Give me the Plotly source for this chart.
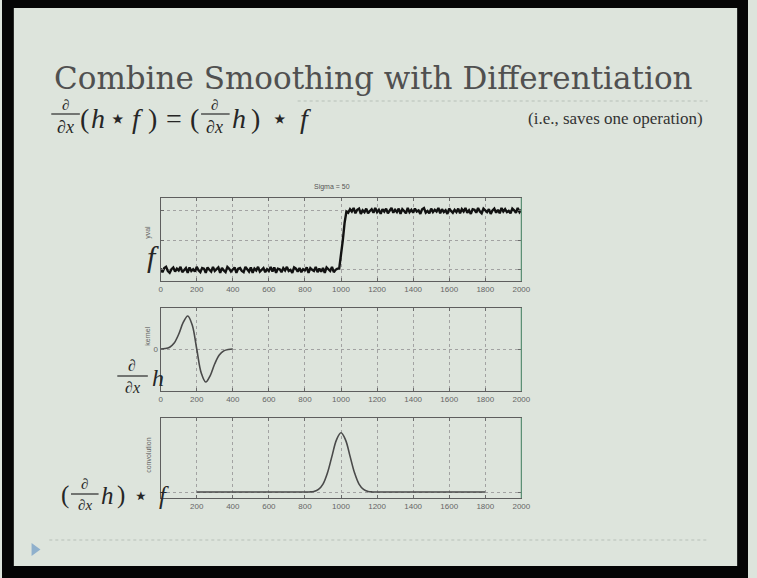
import plotly.graph_objects as go

# ---- data -------------------------------------------------------------
# noisy step signal f, sampled every 10 units from 0 to 2000
signal_x = list(range(0, 2001, 10))
signal_low = [
    0.02, -0.04, 0.03, 0.05, -0.02, -0.05, 0.01, 0.04, -0.03, 0.02,
    -0.01, 0.05, -0.04, 0.00, 0.03, -0.05, 0.04, -0.02, 0.01, -0.03,
    0.05, -0.01, -0.04, 0.03, 0.02, -0.05, 0.04, 0.00, -0.03, 0.05,
    -0.02, 0.01, 0.04, -0.05, 0.03, -0.01, -0.04, 0.05, 0.02, -0.03,
    0.00, 0.04, -0.05, 0.02, 0.03, -0.02, -0.04, 0.05, 0.01, -0.03,
    0.04, -0.05, 0.02, -0.01, 0.05, -0.03, 0.00, 0.03, -0.04, 0.01,
    -0.02, 0.05, -0.03, 0.04, -0.05, 0.02, 0.01, -0.04, 0.03, -0.01,
    0.05, -0.02, 0.00, -0.05, 0.04, 0.02, -0.03, 0.03, -0.04, 0.01,
    -0.01, 0.04, -0.05, 0.03, 0.00, -0.02, 0.05, -0.04, 0.02, -0.03,
    0.03, -0.05, 0.04, 0.01, -0.02, 0.05, -0.04, 0.00, 0.02,
]
signal_edge = [0.02, 0.22, 0.50, 0.80, 0.99]
signal_high = [
    0.97, 1.03, 0.99, 1.05, 0.96, 1.02, 1.04, 0.95, 1.01, 0.98,
    1.04, 0.96, 1.00, 1.03, 0.97, 1.05, 0.98, 1.02, 0.95, 1.03,
    0.99, 1.04, 0.96, 1.01, 1.05, 0.97, 1.02, 0.98, 1.04, 0.95,
    1.03, 1.00, 0.96, 1.05, 0.98, 1.02, 0.97, 1.04, 0.99, 1.01,
    0.95, 1.03, 1.05, 0.97, 1.00, 0.96, 1.04, 0.98, 1.02, 0.99,
    1.05, 0.96, 1.03, 0.98, 1.01, 0.95, 1.04, 1.00, 0.97, 1.02,
    0.98, 1.04, 0.96, 1.03, 0.99, 1.05, 0.97, 1.01, 0.95, 1.03,
    1.02, 0.97, 1.05, 0.99, 0.96, 1.04, 1.00, 0.98, 1.03, 0.95,
    1.01, 1.04, 0.97, 1.02, 0.96, 1.05, 0.99, 1.03, 0.98, 1.00,
    0.96, 1.04, 1.01, 0.97, 1.05, 0.98, 1.02,
]
signal_y = signal_low + signal_edge + signal_high

# derivative-of-Gaussian kernel (sigma = 50), peak normalised to 1
kernel_x = [0, 25, 50, 75, 100, 125, 150, 175, 200,
            225, 250, 275, 300, 325, 350, 375, 400]
kernel_y = [0.002, 0.013, 0.055, 0.181, 0.446, 0.803, 1.0, 0.728, 0.0,
            -0.728, -1.0, -0.803, -0.446, -0.181, -0.055, -0.013, -0.002]

# result of convolving f with the kernel
conv_x = [200, 600, 800, 825, 850, 875, 900, 925, 950, 975, 1000,
          1025, 1050, 1075, 1100, 1125, 1150, 1175, 1200, 1400, 1800]
conv_y = [0.0, 0.0, 0.0003, 0.002, 0.011, 0.044, 0.135, 0.325, 0.607, 0.882, 1.0,
          0.882, 0.607, 0.325, 0.135, 0.044, 0.011, 0.002, 0.0003, 0.0, 0.0]

x_ticks = list(range(0, 2001, 200))
x_labels = [str(v) for v in x_ticks]
x_labels_conv = [""] + x_labels[1:]

plot_title = "Sigma = 50"
slide_title = "Combine Smoothing with Differentiation"
side_note = "(i.e., saves one operation)"

# ---- page geometry ----------------------------------------------------
W, H = 757, 578
BG = "#dde4dc"


def px(x):
    return x / W


def py(y):
    return 1 - y / H


X0, X1 = 161, 527
panels = [(198, 281), (308, 391), (418, 498)]

fig = go.Figure()

fig.add_trace(go.Scatter(x=signal_x, y=signal_y, mode="lines",
                         line=dict(color="#121212", width=2.4),
                         xaxis="x", yaxis="y", hoverinfo="skip"))
fig.add_trace(go.Scatter(x=kernel_x, y=kernel_y, mode="lines",
                         line=dict(color="#4a4a4a", width=1.6, shape="spline"),
                         xaxis="x2", yaxis="y2", hoverinfo="skip"))
fig.add_trace(go.Scatter(x=conv_x, y=conv_y, mode="lines",
                         line=dict(color="#4a4a4a", width=1.6, shape="spline"),
                         xaxis="x3", yaxis="y3", hoverinfo="skip"))

axis_common = dict(showline=True, linecolor="#5e5e5e", linewidth=1,
                   mirror="ticks", ticks="inside", ticklen=3,
                   tickcolor="#6a6a6a", showgrid=True, gridcolor="#a2a2a2",
                   griddash="dot", gridwidth=1, zeroline=False,
                   tickfont=dict(family="Liberation Sans", size=8, color="#666666"))

layout_axes = {}
ranges_y = [[-0.19, 1.22], [-1.27, 1.24], [-0.1, 1.25]]
ytick_sets = [[0, 0.5, 1], [0], [0]]
for i, (top, bot) in enumerate(panels):
    n = "" if i == 0 else str(i + 1)
    labels = x_labels_conv if i == 2 else x_labels
    layout_axes["xaxis" + n] = dict(axis_common, domain=[px(X0), px(X1)],
                                    range=[0, 2000], tickvals=x_ticks,
                                    ticktext=labels, anchor="y" + n)
    layout_axes["yaxis" + n] = dict(axis_common, domain=[py(bot), py(top)],
                                    range=ranges_y[i], tickvals=ytick_sets[i],
                                    ticktext=["0"] if i == 1 else None,
                                    showticklabels=(i == 1), anchor="x" + n)

fig.update_layout(width=W, height=H, margin=dict(l=0, r=0, t=0, b=0),
                  paper_bgcolor=BG, plot_bgcolor=BG, showlegend=False,
                  **layout_axes)

shapes = []
# dark frame of the slide
for x0, y0, x1, y1 in [(0, 0, 12, H), (746, 0, W, H), (0, 0, W, 8), (0, 566, W, H)]:
    shapes.append(dict(type="rect", xref="paper", yref="paper",
                       x0=px(x0), x1=px(x1), y0=py(y1), y1=py(y0),
                       fillcolor="#050505", line=dict(width=0), layer="above"))
# dotted rules under the heading and above the footer
for y, xa, xb in [(101, 300, 716), (540, 48, 716)]:
    shapes.append(dict(type="line", xref="paper", yref="paper",
                       x0=px(xa), x1=px(xb), y0=py(y), y1=py(y),
                       line=dict(color="#c4cbc4", width=1.5, dash="dot")))
# greenish right edge of each axes box
for top, bot in panels:
    shapes.append(dict(type="line", xref="paper", yref="paper",
                       x0=px(X1), x1=px(X1), y0=py(bot), y1=py(top),
                       line=dict(color="#5d9478", width=1.2), layer="above"))
# fraction bars
for xa, xb, y in [(50, 79, 114), (202, 231, 114), (117, 148, 376), (70, 98, 494)]:
    shapes.append(dict(type="line", xref="paper", yref="paper",
                       x0=px(xa), x1=px(xb), y0=py(y), y1=py(y),
                       line=dict(color="#2a2a2a", width=1.2)))
# footer arrow
shapes.append(dict(type="path", xref="paper", yref="paper",
                   path=f"M {px(30)},{py(543)} L {px(39)},{py(549.5)} L {px(30)},{py(556)} Z",
                   fillcolor="#8fb0cc", line=dict(width=0)))
fig.update_layout(shapes=shapes)

SERIF = "Liberation Serif"
MATH = "#262626"
ann = []


def text(s, x, y, size, color=MATH, family=SERIF, xanchor="center", angle=0):
    ann.append(dict(text=s, x=px(x), y=py(y), xref="paper", yref="paper",
                    showarrow=False, xanchor=xanchor, yanchor="middle",
                    textangle=angle, borderpad=0,
                    font=dict(family=family, size=size, color=color)))


def frac(xc, ytop, ybot, size_top, size_bot):
    text("∂", xc, ytop, size_top)
    text("∂<i>x</i>", xc, ybot, size_bot)


def row(items, y, size):
    # items: (string, centre x)
    for s, xc in items:
        text(s, xc, y, size)


text(slide_title, 377, 78, 31, color="#505050", family="DejaVu Serif")
frac(64, 105, 127, 15, 18)
row([("(", 84), ("<i>h</i>", 97), ("⋆", 118), ("<i>f</i>", 137), (")", 153),
     ("=", 175), ("(", 195)], 118, 28)
frac(216, 105, 127, 15, 18)
row([("<i>h</i>", 240), (")", 257), ("⋆", 282), ("<i>f</i>", 308)], 118, 28)
text(side_note, 712, 119, 17, color="#333333", xanchor="right")

text(plot_title, 335, 187, 7, color="#555555", family="Liberation Sans")
text("yval", 148, 232, 7, color="#666666", family="Liberation Sans", angle=-90)
text("kernel", 147, 336, 7, color="#666666", family="Liberation Sans", angle=-90)
text("convolution", 148, 455, 7, color="#666666", family="Liberation Sans", angle=-90)

text("<i>f</i>", 153, 256, 30)
frac(132, 365, 387, 16, 16)
text("<i>h</i>", 158, 378, 24)
frac(84, 484, 505, 15, 15)
row([("(", 64), ("<i>h</i>", 107), (")", 121), ("⋆", 141), ("<i>f</i>", 164)], 495, 25)

fig.update_layout(annotations=ann)
fig.write_html("out.html")
